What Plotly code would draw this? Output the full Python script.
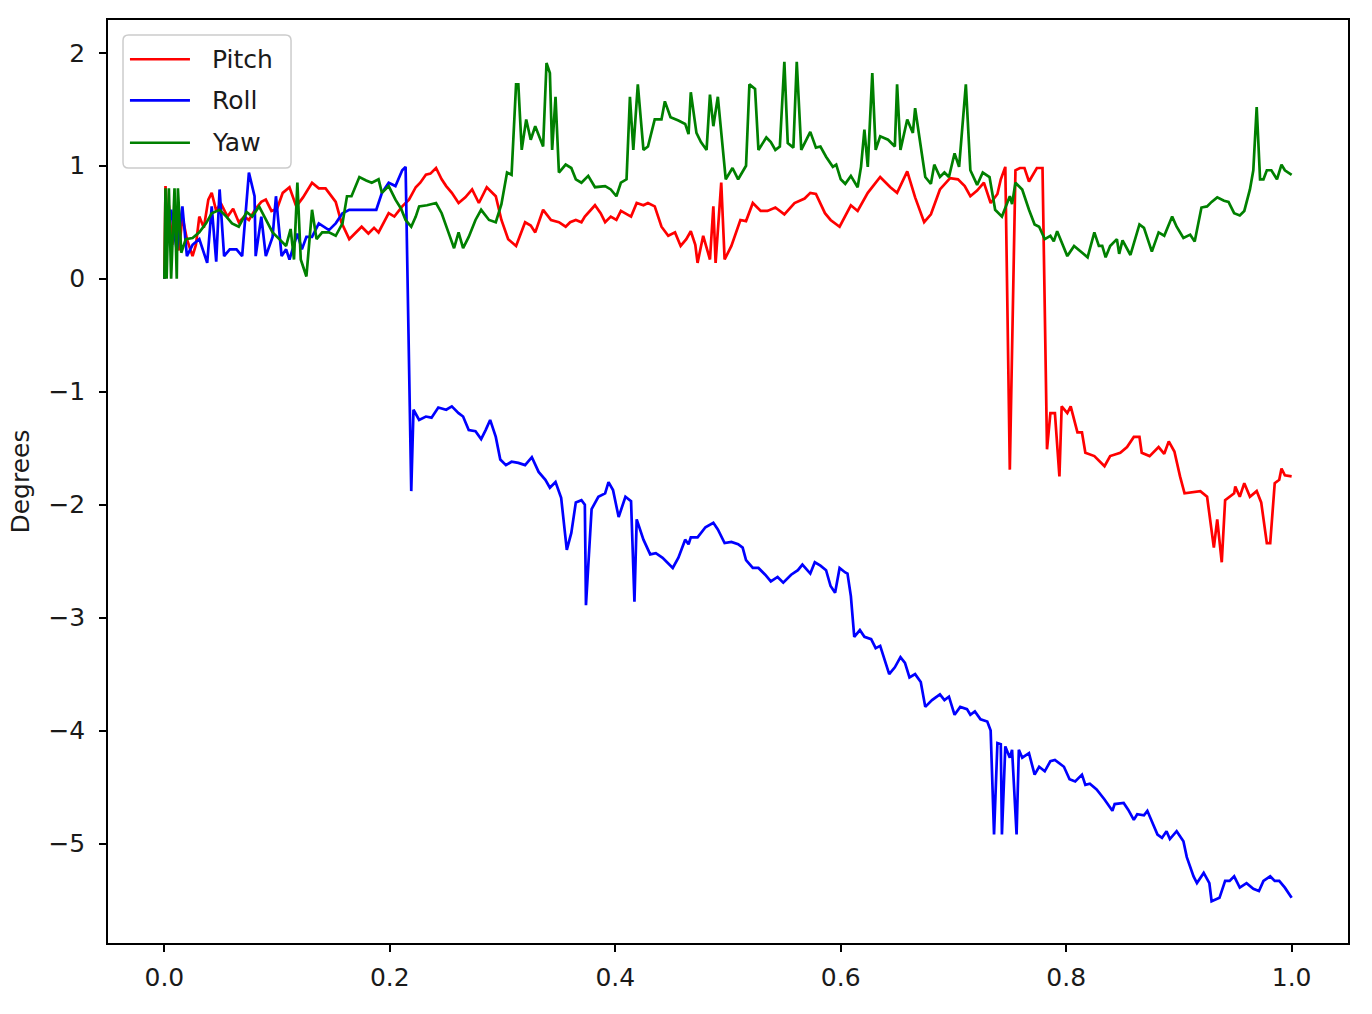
import plotly.graph_objects as go

# (time fraction, degrees) samples
PITCH = [(0.000,0.00),(0.001,0.82),(0.003,0.45),(0.004,0.65),(0.007,0.30),(0.010,0.50),(0.013,0.25),(0.016,0.55),
 (0.020,0.35),(0.025,0.20),(0.028,0.30),(0.031,0.55),(0.035,0.45),(0.039,0.70),(0.042,0.76),(0.046,0.60),
 (0.050,0.67),(0.056,0.55),(0.061,0.62),(0.066,0.50),(0.071,0.55),(0.075,0.52),(0.081,0.62),(0.086,0.68),
 (0.090,0.70),(0.095,0.60),(0.100,0.62),(0.105,0.76),(0.111,0.81),(0.117,0.64),(0.123,0.72),(0.131,0.85),
 (0.137,0.80),(0.143,0.80),(0.149,0.72),(0.152,0.68),(0.157,0.50),(0.161,0.41),(0.164,0.35),(0.169,0.40),
 (0.175,0.46),(0.181,0.40),(0.186,0.45),(0.190,0.41),(0.195,0.50),(0.199,0.58),(0.204,0.55),(0.211,0.64),
 (0.217,0.70),(0.223,0.81),(0.227,0.85),(0.232,0.92),(0.236,0.93),(0.241,0.98),(0.246,0.88),(0.250,0.82),
 (0.255,0.76),(0.261,0.67),(0.267,0.72),(0.273,0.79),(0.279,0.67),(0.286,0.81),(0.294,0.73),(0.299,0.52),
 (0.305,0.35),(0.312,0.29),(0.320,0.50),(0.325,0.47),(0.329,0.41),(0.336,0.61),(0.343,0.52),(0.350,0.50),
 (0.356,0.46),(0.360,0.50),(0.365,0.52),(0.370,0.50),(0.373,0.55),(0.382,0.65),(0.387,0.58),(0.391,0.50),
 (0.396,0.55),(0.401,0.52),(0.405,0.60),(0.410,0.57),(0.414,0.55),(0.419,0.67),(0.425,0.65),(0.429,0.67),
 (0.435,0.64),(0.441,0.46),(0.447,0.38),(0.453,0.41),(0.458,0.29),(0.463,0.35),(0.467,0.42),(0.471,0.30),
 (0.473,0.14),(0.478,0.38),(0.484,0.17),(0.487,0.64),(0.489,0.14),(0.494,0.85),(0.497,0.17),(0.503,0.29),
 (0.511,0.52),(0.516,0.51),(0.522,0.67),(0.529,0.60),(0.535,0.60),(0.542,0.63),(0.550,0.57),(0.559,0.67),
 (0.568,0.71),(0.573,0.76),(0.578,0.75),(0.586,0.58),(0.591,0.52),(0.599,0.46),(0.604,0.56),(0.609,0.65),
 (0.615,0.60),(0.624,0.76),(0.635,0.90),(0.644,0.81),(0.650,0.76),(0.659,0.95),(0.666,0.72),(0.674,0.50),
 (0.680,0.57),(0.688,0.79),(0.697,0.89),(0.704,0.88),(0.710,0.82),(0.715,0.73),(0.721,0.78),(0.727,0.85),
 (0.733,0.67),(0.739,0.75),(0.742,0.88),(0.746,0.99),(0.750,-1.69),(0.755,0.96),(0.759,0.98),(0.763,0.98),
 (0.767,0.86),(0.774,0.98),(0.779,0.98),(0.783,-1.51),(0.786,-1.19),(0.790,-1.19),(0.794,-1.75),(0.796,-1.13),
 (0.801,-1.19),(0.804,-1.13),(0.810,-1.36),(0.814,-1.36),(0.817,-1.54),(0.825,-1.57),(0.834,-1.66),(0.839,-1.57),
 (0.848,-1.54),(0.854,-1.49),(0.860,-1.40),(0.865,-1.40),(0.867,-1.54),(0.874,-1.57),(0.882,-1.49),(0.887,-1.55),
 (0.891,-1.44),(0.896,-1.53),(0.901,-1.75),(0.905,-1.90),(0.919,-1.88),(0.925,-1.93),(0.931,-2.38),(0.934,-2.13),
 (0.938,-2.51),(0.941,-1.96),(0.949,-1.90),(0.950,-1.84),(0.954,-1.93),(0.958,-1.81),(0.963,-1.93),(0.969,-1.88),
 (0.973,-1.98),(0.978,-2.34),(0.981,-2.34),(0.985,-1.81),(0.989,-1.78),(0.991,-1.68),(0.994,-1.74),(1.000,-1.75)]

ROLL = [(0.000,0.00),(0.003,0.40),(0.006,0.61),(0.011,0.25),(0.016,0.64),(0.020,0.20),(0.025,0.30),(0.031,0.35),
 (0.038,0.14),(0.042,0.64),(0.046,0.15),(0.049,0.79),(0.053,0.20),(0.058,0.26),(0.064,0.26),(0.069,0.20),
 (0.075,0.94),(0.080,0.73),(0.081,0.20),(0.086,0.55),(0.090,0.20),(0.096,0.37),(0.099,0.73),(0.104,0.20),
 (0.108,0.26),(0.111,0.17),(0.118,0.40),(0.122,0.26),(0.126,0.37),(0.131,0.37),(0.137,0.49),(0.146,0.43),
 (0.152,0.49),(0.158,0.58),(0.164,0.61),(0.175,0.61),(0.188,0.61),(0.193,0.76),(0.199,0.85),(0.205,0.82),
 (0.211,0.96),(0.214,0.99),(0.219,-1.88),(0.221,-1.16),(0.226,-1.25),(0.232,-1.22),(0.237,-1.23),(0.243,-1.14),
 (0.250,-1.16),(0.255,-1.13),(0.261,-1.19),(0.265,-1.22),(0.270,-1.34),(0.276,-1.35),(0.281,-1.42),(0.285,-1.34),
 (0.289,-1.25),(0.294,-1.40),(0.298,-1.60),(0.303,-1.65),(0.308,-1.62),(0.314,-1.63),(0.320,-1.65),(0.326,-1.58),
 (0.332,-1.71),(0.338,-1.78),(0.342,-1.85),(0.347,-1.80),(0.352,-1.94),(0.357,-2.40),(0.361,-2.25),(0.365,-1.98),
 (0.370,-1.96),(0.373,-2.00),(0.374,-2.89),(0.379,-2.04),(0.385,-1.93),(0.391,-1.90),(0.394,-1.80),(0.398,-1.87),
 (0.403,-2.11),(0.409,-1.93),(0.414,-1.97),(0.417,-2.86),(0.419,-2.13),(0.425,-2.31),(0.431,-2.44),(0.436,-2.43),
 (0.442,-2.47),(0.451,-2.56),(0.456,-2.47),(0.462,-2.31),(0.465,-2.35),(0.467,-2.29),(0.473,-2.29),(0.480,-2.20),
 (0.487,-2.16),(0.491,-2.22),(0.497,-2.34),(0.503,-2.33),(0.509,-2.35),(0.513,-2.38),(0.516,-2.49),(0.522,-2.56),
 (0.527,-2.56),(0.533,-2.62),(0.538,-2.68),(0.544,-2.64),(0.549,-2.69),(0.556,-2.62),(0.562,-2.58),(0.566,-2.53),
 (0.573,-2.61),(0.577,-2.51),(0.582,-2.54),(0.587,-2.58),(0.591,-2.72),(0.595,-2.78),(0.599,-2.56),(0.604,-2.60),
 (0.606,-2.61),(0.609,-2.81),(0.612,-3.17),(0.617,-3.11),(0.621,-3.17),(0.627,-3.19),(0.631,-3.27),(0.635,-3.25),
 (0.639,-3.37),(0.643,-3.50),(0.648,-3.44),(0.653,-3.35),(0.657,-3.40),(0.661,-3.53),(0.666,-3.50),(0.671,-3.57),
 (0.675,-3.79),(0.681,-3.73),(0.688,-3.68),(0.692,-3.73),(0.696,-3.70),(0.701,-3.86),(0.706,-3.79),(0.712,-3.81),
 (0.715,-3.86),(0.719,-3.83),(0.724,-3.90),(0.730,-3.92),(0.733,-4.00),(0.736,-4.92),(0.739,-4.11),(0.742,-4.12),
 (0.743,-4.92),(0.746,-4.14),(0.750,-4.24),(0.752,-4.17),(0.756,-4.92),(0.758,-4.17),(0.761,-4.24),(0.767,-4.20),
 (0.772,-4.39),(0.776,-4.32),(0.781,-4.36),(0.786,-4.27),(0.790,-4.26),(0.798,-4.32),(0.803,-4.43),(0.808,-4.45),
 (0.814,-4.39),(0.817,-4.48),(0.821,-4.47),(0.827,-4.52),(0.834,-4.61),(0.841,-4.71),(0.843,-4.65),(0.851,-4.64),
 (0.855,-4.70),(0.860,-4.79),(0.863,-4.74),(0.869,-4.75),(0.872,-4.71),(0.876,-4.80),(0.881,-4.92),(0.885,-4.95),
 (0.889,-4.89),(0.892,-4.96),(0.898,-4.89),(0.904,-4.98),(0.907,-5.12),(0.913,-5.29),(0.916,-5.35),(0.922,-5.26),
 (0.927,-5.35),(0.929,-5.51),(0.936,-5.48),(0.941,-5.33),(0.945,-5.33),(0.949,-5.29),(0.954,-5.39),(0.960,-5.35),
 (0.966,-5.40),(0.971,-5.42),(0.975,-5.33),(0.981,-5.29),(0.985,-5.33),(0.989,-5.33),(0.994,-5.39),(1.000,-5.48)]

YAW = [(0.000,0.00),(0.001,0.80),(0.002,0.00),(0.004,0.80),(0.006,0.00),(0.009,0.80),(0.011,0.00),(0.012,0.80),
 (0.015,0.23),(0.019,0.35),(0.025,0.36),(0.031,0.41),(0.037,0.49),(0.042,0.58),(0.049,0.61),(0.055,0.55),
 (0.060,0.49),(0.066,0.46),(0.073,0.59),(0.078,0.55),(0.084,0.64),(0.090,0.52),(0.096,0.41),(0.102,0.35),
 (0.108,0.29),(0.112,0.44),(0.115,0.17),(0.118,0.85),(0.121,0.17),(0.126,0.02),(0.128,0.25),(0.131,0.61),
 (0.135,0.35),(0.140,0.41),(0.146,0.41),(0.152,0.38),(0.158,0.49),(0.162,0.73),(0.166,0.73),(0.173,0.90),
 (0.179,0.87),(0.184,0.85),(0.190,0.88),(0.193,0.76),(0.199,0.82),(0.205,0.70),(0.210,0.62),(0.214,0.52),
 (0.219,0.46),(0.223,0.55),(0.226,0.64),(0.233,0.65),(0.241,0.67),(0.246,0.58),(0.252,0.41),(0.257,0.27),
 (0.261,0.41),(0.265,0.27),(0.270,0.37),(0.276,0.52),(0.281,0.61),(0.288,0.52),(0.294,0.50),(0.299,0.66),
 (0.304,0.94),(0.308,0.92),(0.312,1.72),(0.314,1.72),(0.317,1.14),(0.321,1.41),(0.325,1.23),(0.329,1.35),
 (0.336,1.17),(0.339,1.91),(0.342,1.82),(0.344,1.14),(0.347,1.61),(0.350,0.94),(0.356,1.01),(0.361,0.98),
 (0.365,0.88),(0.370,0.85),(0.376,0.91),(0.382,0.81),(0.391,0.82),(0.396,0.79),(0.401,0.73),(0.405,0.85),
 (0.410,0.88),(0.413,1.61),(0.416,1.14),(0.420,1.72),(0.425,1.14),(0.429,1.17),(0.435,1.41),(0.441,1.41),
 (0.444,1.57),(0.449,1.43),(0.456,1.40),(0.462,1.37),(0.465,1.28),(0.467,1.65),(0.472,1.29),(0.476,1.21),
 (0.481,1.14),(0.484,1.63),(0.487,1.35),(0.491,1.61),(0.498,0.88),(0.504,0.98),(0.509,0.88),(0.516,1.00),
 (0.519,1.72),(0.524,1.68),(0.527,1.14),(0.534,1.25),(0.538,1.21),(0.542,1.14),(0.546,1.17),(0.550,1.92),
 (0.553,1.20),(0.558,1.16),(0.561,1.92),(0.565,1.14),(0.569,1.22),(0.573,1.30),(0.578,1.16),(0.582,1.17),
 (0.587,1.08),(0.593,0.99),(0.596,1.01),(0.600,0.88),(0.604,0.84),(0.609,0.91),(0.615,0.81),(0.618,0.99),
 (0.621,1.32),(0.624,0.99),(0.628,1.82),(0.631,1.14),(0.635,1.26),(0.642,1.23),(0.648,1.17),(0.650,1.72),
 (0.653,1.14),(0.659,1.41),(0.664,1.29),(0.666,1.51),(0.671,1.17),(0.675,0.90),(0.680,0.84),(0.683,1.01),
 (0.688,0.90),(0.692,0.94),(0.696,0.90),(0.701,1.11),(0.705,0.99),(0.711,1.72),(0.715,0.96),(0.721,0.83),
 (0.726,0.94),(0.732,0.90),(0.737,0.61),(0.743,0.55),(0.750,0.73),(0.752,0.66),(0.755,0.85),(0.761,0.79),
 (0.767,0.61),(0.772,0.48),(0.776,0.46),(0.781,0.35),(0.786,0.38),(0.789,0.33),(0.792,0.42),(0.796,0.32),
 (0.801,0.20),(0.807,0.29),(0.812,0.25),(0.819,0.19),(0.825,0.41),(0.829,0.29),(0.832,0.29),(0.835,0.19),
 (0.839,0.29),(0.845,0.35),(0.847,0.22),(0.850,0.34),(0.857,0.21),(0.865,0.48),(0.869,0.45),(0.876,0.24),
 (0.882,0.41),(0.887,0.38),(0.894,0.55),(0.898,0.46),(0.904,0.36),(0.910,0.39),(0.914,0.33),(0.920,0.63),
 (0.925,0.64),(0.929,0.68),(0.934,0.72),(0.940,0.69),(0.944,0.68),(0.949,0.58),(0.954,0.56),(0.958,0.60),
 (0.963,0.79),(0.966,0.96),(0.969,1.52),(0.972,0.88),(0.975,0.88),(0.978,0.96),(0.982,0.96),(0.987,0.88),
 (0.991,1.01),(0.994,0.96),(1.000,0.92)]

SERIES_NAMES = ["Pitch", "Roll", "Yaw"]
SERIES_COLORS = ["#ff0000", "#0000ff", "#008000"]
X_TICKS = [0.0, 0.2, 0.4, 0.6, 0.8, 1.0]
Y_TICKS = [-5, -4, -3, -2, -1, 0, 1, 2]

FONT = "DejaVu Sans"
FS = 25
LW = 2.7

fig = go.Figure()
for name, color, data in zip(SERIES_NAMES, SERIES_COLORS, [PITCH, ROLL, YAW]):
    t = [p[0] for p in data]
    v = [p[1] for p in data]
    fig.add_trace(go.Scatter(x=t, y=v, mode="lines", name=name,
                             line=dict(color=color, width=LW), showlegend=False))

axis_common = dict(showline=True, linecolor="black", linewidth=1.5, mirror=True,
                   ticks="outside", ticklen=7, tickwidth=1.5, tickcolor="black",
                   showgrid=False, zeroline=False,
                   tickfont=dict(family=FONT, size=FS, color="#1a1a1a"))

fig.update_layout(
    width=1372, height=1014,
    margin=dict(l=108, r=24, t=20, b=71),
    paper_bgcolor="white", plot_bgcolor="white",
    font=dict(family=FONT, size=FS, color="black"),
    xaxis=dict(range=[-0.05, 1.05], tickvals=X_TICKS, tickformat=".1f",
               ticklabelstandoff=4, **axis_common),
    yaxis=dict(range=[-5.88, 2.29], tickvals=Y_TICKS, ticklabelstandoff=9,
               title=dict(text="Degrees", font=dict(family=FONT, size=FS, color="#1a1a1a"), standoff=12),
               **axis_common),
)

# legend drawn in the matplotlib style (box, long line samples, labels)
bx0, bx1, by0, by1 = 0.0121, 0.1476, 0.8397, 0.9838
rx, ry = 0.0045, 0.006
path = (f"M{bx0+rx},{by0} L{bx1-rx},{by0} Q{bx1},{by0} {bx1},{by0+ry} "
        f"L{bx1},{by1-ry} Q{bx1},{by1} {bx1-rx},{by1} L{bx0+rx},{by1} "
        f"Q{bx0},{by1} {bx0},{by1-ry} L{bx0},{by0+ry} Q{bx0},{by0} {bx0+rx},{by0} Z")
fig.add_shape(type="path", path=path, xref="paper", yref="paper",
              fillcolor="rgba(255,255,255,0.8)", line=dict(color="#cccccc", width=1.5), layer="above")
legend_rows = [0.9575, 0.9130, 0.8670]
for name, color, yy in zip(SERIES_NAMES, SERIES_COLORS, legend_rows):
    fig.add_shape(type="line", xref="paper", yref="paper", x0=0.0177, x1=0.0661, y0=yy, y1=yy,
                  line=dict(color=color, width=LW), layer="above")
    fig.add_annotation(x=0.0825, y=yy, xref="paper", yref="paper", text=name, showarrow=False,
                       xanchor="left", yanchor="middle", font=dict(family=FONT, size=FS, color="#1a1a1a"))

fig.write_html("out.html")
